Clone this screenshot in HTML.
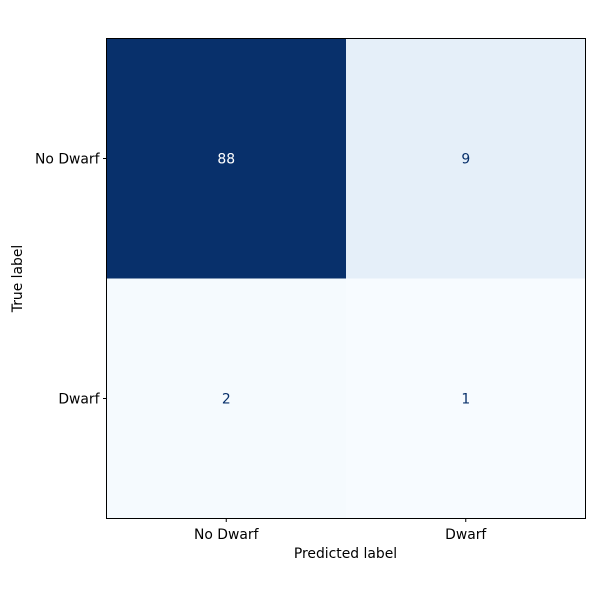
<!DOCTYPE html>
<html><head><meta charset="utf-8"><style>
body{margin:0;background:#fff;}
svg text{font-family:"DejaVu Sans","Liberation Sans",sans-serif;font-size:13.9px;}
</style></head><body>
<svg id="chart" width="600" height="600">
<rect width="600" height="600" fill="#fff"/>
<g id="cells"></g>
<rect x="106.5" y="38.5" width="479" height="480" fill="none" stroke="#000" stroke-width="1"/>
<g id="axes"></g>
<text x="345.5" y="558" text-anchor="middle">Predicted label</text>
<text transform="translate(22,278.5) rotate(-90)" text-anchor="middle">True label</text>
</svg>
<script>
const labels = ["No Dwarf", "Dwarf"];
const row0 = [88, 9];
const row1 = [2, 1];
const matrix = [row0, row1];

const x0 = 106.5, y0 = 38.5, W = 479, H = 480;
const n = labels.length;
const cw = W / n, ch = H / n;
const NS = "http://www.w3.org/2000/svg";
const all = matrix.flat();
const vmin = Math.min(...all), vmax = Math.max(...all);
const stops = [[247,251,255],[222,235,247],[198,219,239],[158,202,225],[107,174,214],[66,146,198],[33,113,181],[8,81,156],[8,48,107]];
function blues(t){
  t = Math.max(0, Math.min(1, t)) * (stops.length - 1);
  const i = Math.min(Math.floor(t), stops.length - 2), f = t - i;
  const c = stops[i].map((v, k) => Math.round(v + (stops[i+1][k] - v) * f));
  return `rgb(${c[0]},${c[1]},${c[2]})`;
}
const xPos = j => x0 + j * cw;
const yPos = i => y0 + i * ch;
const cells = document.getElementById("cells");
matrix.forEach((row, i) => row.forEach((v, j) => {
  const t = (v - vmin) / (vmax - vmin);
  const r = document.createElementNS(NS, "rect");
  r.setAttribute("x", xPos(j)); r.setAttribute("y", yPos(i));
  r.setAttribute("width", cw + 0.5); r.setAttribute("height", ch + 0.5);
  r.setAttribute("fill", blues(t));
  
  
  cells.appendChild(r);
  const tx = document.createElementNS(NS, "text");
  tx.setAttribute("x", xPos(j) + cw / 2); tx.setAttribute("y", yPos(i) + ch / 2 + 5);
  tx.setAttribute("text-anchor", "middle");
  tx.setAttribute("fill", t > 0.5 ? "#ffffff" : "#08306b");
  tx.textContent = v;
  
  
  cells.appendChild(tx);
}));
const axes = document.getElementById("axes");
labels.forEach((lab, k) => {
  const cx = xPos(k) + cw / 2, cy = yPos(k) + ch / 2;
  const xt = document.createElementNS(NS, "line");
  xt.setAttribute("x1", cx); xt.setAttribute("x2", cx); xt.setAttribute("y1", y0 + H); xt.setAttribute("y2", y0 + H + 3.5);
  xt.setAttribute("stroke", "#000");
  
  
  axes.appendChild(xt);
  const xl = document.createElementNS(NS, "text");
  xl.setAttribute("x", cx); xl.setAttribute("y", y0 + H + 20.5); xl.setAttribute("text-anchor", "middle");
  xl.textContent = lab;
  
  
  axes.appendChild(xl);
  const yt = document.createElementNS(NS, "line");
  yt.setAttribute("x1", x0 - 3.5); yt.setAttribute("x2", x0); yt.setAttribute("y1", cy); yt.setAttribute("y2", cy);
  yt.setAttribute("stroke", "#000");
  
  
  axes.appendChild(yt);
  const yl = document.createElementNS(NS, "text");
  yl.setAttribute("x", x0 - 7); yl.setAttribute("y", cy + 5); yl.setAttribute("text-anchor", "end");
  yl.textContent = lab;
  
  
  axes.appendChild(yl);
});
</script>
</body></html>
